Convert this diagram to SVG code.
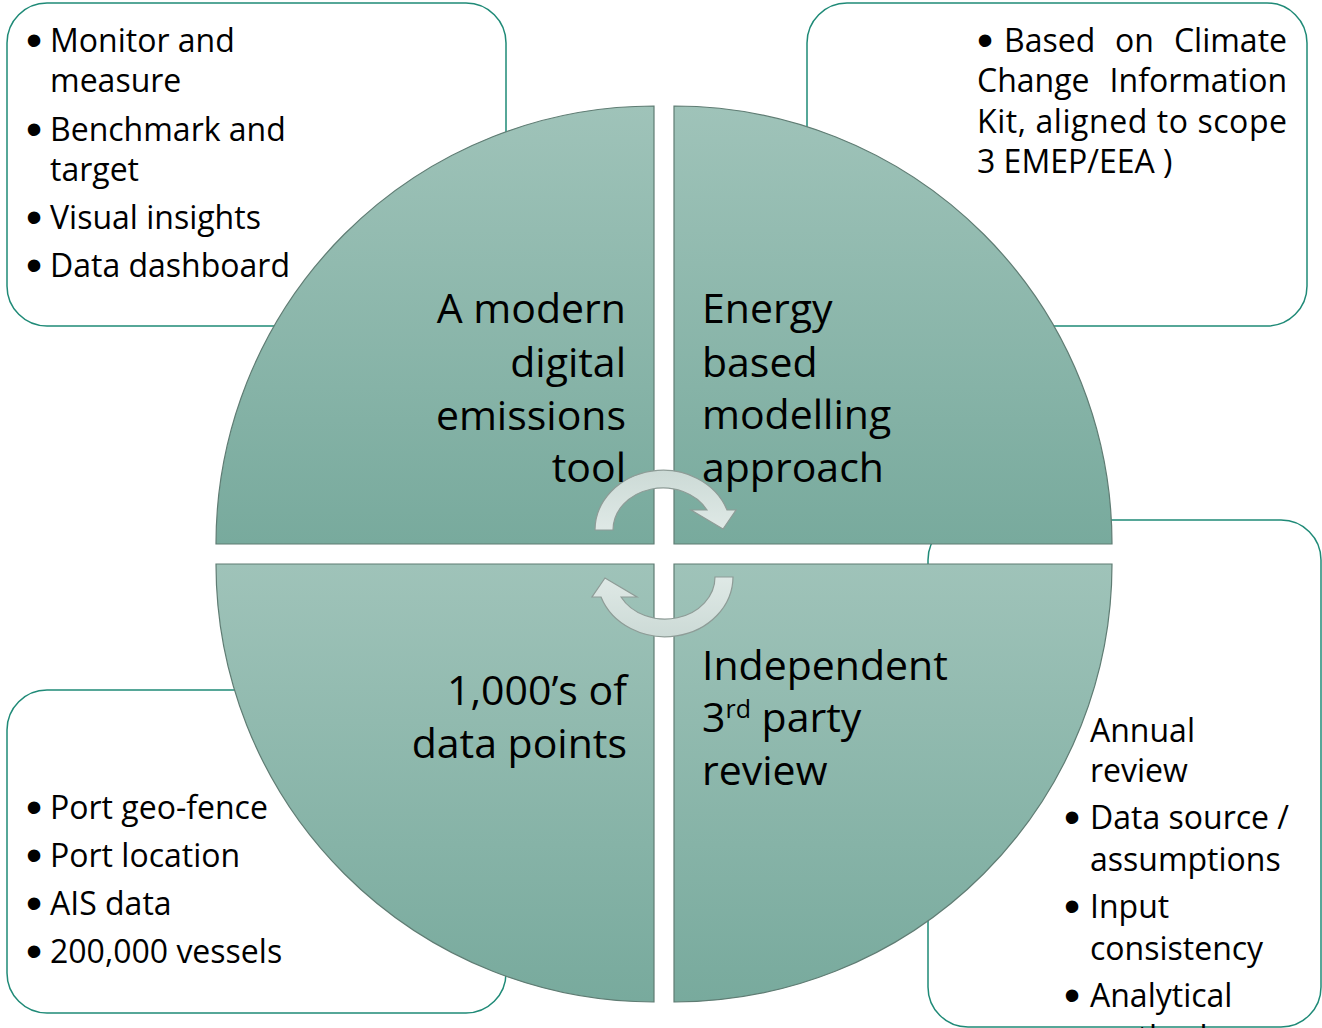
<svg xmlns="http://www.w3.org/2000/svg" width="1322" height="1028" viewBox="0 0 1322 1028">
<style>
.box{fill:#ffffff;stroke:#1f8a77;stroke-width:1.5}
.quad{fill:url(#qg);stroke:#5f7c73;stroke-width:1.2}
.t{font-family:"Open Sans","Noto Sans",sans-serif;font-size:32px;fill:#000}
.b{font-family:"Liberation Sans",Arial,sans-serif;font-size:46px;fill:#000;text-anchor:middle}
.c{font-family:"Open Sans","Noto Sans",sans-serif;font-size:41px;fill:#000}
.r{text-anchor:end}
.arrow{fill:url(#ag);stroke:#8e9c97;stroke-width:1.2;stroke-linejoin:miter}
</style>
<defs>
<linearGradient id="qg" x1="0" y1="0" x2="0" y2="1">
<stop offset="0" stop-color="#9fc3b9"/>
<stop offset="1" stop-color="#78aa9d"/>
</linearGradient>
<linearGradient id="ag" x1="0" y1="0" x2="0" y2="1">
<stop offset="0" stop-color="#dfe9e6"/>
<stop offset="1" stop-color="#ccdad6"/>
</linearGradient>
<path id="circarrow" d="M 733 577 A 68 60 0 0 1 601 597 L 592 597 L 605 578 L 637 597 L 621 597 A 50 42 0 0 0 715 577 Z"/>
</defs>

<g id="box-tl">
<rect class="box" x="7" y="3" width="499" height="323" rx="40"/>
<text class="b" x="34" y="56">•</text>
<text class="t" x="50" y="52">Monitor and</text>
<text class="t" x="50" y="92">measure</text>
<text class="b" x="34" y="145">•</text>
<text class="t" x="50" y="141">Benchmark and</text>
<text class="t" x="50" y="181">target</text>
<text class="b" x="34" y="233">•</text>
<text class="t" x="50" y="229">Visual insights</text>
<text class="b" x="34" y="281">•</text>
<text class="t" x="50" y="277">Data dashboard</text>
</g>

<g id="box-tr">
<rect class="box" x="807" y="3" width="500" height="323" rx="40"/>
<text class="b" x="985" y="56">•</text>
<text class="t" x="1004" y="52">Based</text>
<text class="t" x="1115" y="52">on</text>
<text class="t r" x="1287" y="52">Climate</text>
<text class="t" x="977" y="92">Change</text>
<text class="t r" x="1287" y="92">Information</text>
<text class="t" x="977" y="133" textLength="310" lengthAdjust="spacing">Kit, aligned to scope</text>
<text class="t" x="977" y="173">3 EMEP/EEA )</text>
</g>

<g id="box-bl">
<rect class="box" x="7" y="690" width="499" height="323" rx="40"/>
<text class="b" x="34" y="823">•</text>
<text class="t" x="50" y="819">Port geo-fence</text>
<text class="b" x="34" y="871">•</text>
<text class="t" x="50" y="867">Port location</text>
<text class="b" x="34" y="919">•</text>
<text class="t" x="50" y="915">AIS data</text>
<text class="b" x="34" y="967">•</text>
<text class="t" x="50" y="963">200,000 vessels</text>
</g>

<g id="box-br">
<rect class="box" x="928" y="520" width="393" height="507" rx="40"/>
<text class="t" x="1090" y="742">Annual</text>
<text class="t" x="1090" y="782">review</text>
<text class="b" x="1072" y="833">•</text>
<text class="t" x="1090" y="829">Data source /</text>
<text class="t" x="1090" y="871">assumptions</text>
<text class="b" x="1072" y="922">•</text>
<text class="t" x="1090" y="918">Input</text>
<text class="t" x="1090" y="960">consistency</text>
<text class="b" x="1072" y="1011">•</text>
<text class="t" x="1090" y="1007">Analytical</text>
<text class="t" x="1090" y="1049">methods</text>
</g>

<g id="quad-tl">
<path class="quad" d="M 654 544 L 216 544 A 438 438 0 0 1 654 106 Z"/>
</g>
<g id="quad-tr">
<path class="quad" d="M 674 544 L 674 106 A 438 438 0 0 1 1112 544 Z"/>
</g>
<g id="quad-bl">
<path class="quad" d="M 654 564 L 654 1002 A 438 438 0 0 1 216 564 Z"/>
</g>
<g id="quad-br">
<path class="quad" d="M 674 564 L 1112 564 A 438 438 0 0 1 674 1002 Z"/>
</g>

<g id="connectors">
<use href="#circarrow" class="arrow"/>
<use href="#circarrow" class="arrow" transform="rotate(180 664 553.5)"/>
</g>

<g id="labels">
<text class="c r" x="626" y="323">A modern</text>
<text class="c r" x="626" y="377">digital</text>
<text class="c r" x="626" y="430">emissions</text>
<text class="c r" x="626" y="482">tool</text>
<text class="c" x="702" y="323">Energy</text>
<text class="c" x="702" y="377">based</text>
<text class="c" x="702" y="429">modelling</text>
<text class="c" x="702" y="482">approach</text>
<text class="c r" x="627" y="705">1,000’s of</text>
<text class="c r" x="627" y="758">data points</text>
<text class="c" x="702" y="680">Independent</text>
<text class="c" x="702" y="732">3<tspan font-size="25" dy="-14">rd</tspan><tspan dy="14"> party</tspan></text>
<text class="c" x="702" y="785">review</text>
</g>
</svg>
